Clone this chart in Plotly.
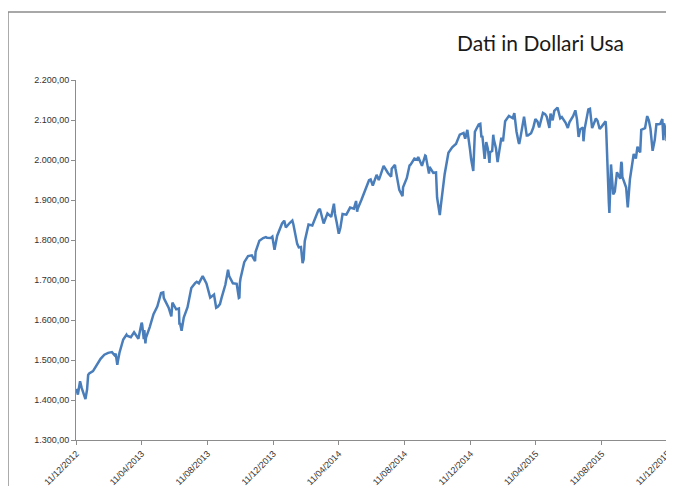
import plotly.graph_objects as go

# Weekly closes (plus notable daily highs/lows)
dates = [
    "2012-12-11","2012-12-14","2012-12-18","2012-12-21","2012-12-28","2012-12-31",
    "2013-01-02","2013-01-04","2013-01-11","2013-01-18","2013-01-25","2013-02-01","2013-02-08",
    "2013-02-15","2013-02-22","2013-02-25","2013-03-01","2013-03-08","2013-03-15","2013-03-22",
    "2013-03-28","2013-04-05","2013-04-11","2013-04-12","2013-04-18","2013-04-19","2013-04-26",
    "2013-05-03","2013-05-10","2013-05-17","2013-05-21","2013-05-24","2013-05-31","2013-06-07",
    "2013-06-14","2013-06-21","2013-06-24","2013-06-28","2013-07-05","2013-07-12","2013-07-19",
    "2013-07-26","2013-08-02","2013-08-09","2013-08-16","2013-08-23","2013-08-27","2013-08-30",
    "2013-09-06","2013-09-13","2013-09-18","2013-09-20","2013-09-27","2013-10-04","2013-10-08",
    "2013-10-11","2013-10-18","2013-10-25","2013-11-01","2013-11-08","2013-11-15","2013-11-22",
    "2013-11-29","2013-12-06","2013-12-13","2013-12-20","2013-12-27","2013-12-31",
    "2014-01-03","2014-01-10","2014-01-17","2014-01-24","2014-01-31","2014-02-03","2014-02-07",
    "2014-02-14","2014-02-21","2014-02-28","2014-03-07","2014-03-14","2014-03-21","2014-03-28",
    "2014-04-04","2014-04-11","2014-04-18","2014-04-25","2014-05-02","2014-05-09","2014-05-16",
    "2014-05-23","2014-05-30","2014-06-06","2014-06-13","2014-06-20","2014-06-27","2014-07-03",
    "2014-07-11","2014-07-18","2014-07-24","2014-07-25","2014-08-01","2014-08-07","2014-08-08",
    "2014-08-15","2014-08-22","2014-08-29","2014-09-05","2014-09-12","2014-09-18","2014-09-19",
    "2014-09-26","2014-10-03","2014-10-10","2014-10-15","2014-10-17","2014-10-24","2014-10-31",
    "2014-11-07","2014-11-14","2014-11-21","2014-11-28","2014-12-05","2014-12-12","2014-12-16",
    "2014-12-19","2014-12-26","2014-12-29","2014-12-31",
    "2015-01-02","2015-01-06","2015-01-09","2015-01-15","2015-01-16","2015-01-23","2015-01-30",
    "2015-02-06","2015-02-13","2015-02-20","2015-02-27","2015-03-06","2015-03-11","2015-03-13",
    "2015-03-20","2015-03-27","2015-04-02","2015-04-10","2015-04-17","2015-04-24","2015-05-01",
    "2015-05-08","2015-05-15","2015-05-21","2015-05-22","2015-05-29","2015-06-05","2015-06-12",
    "2015-06-19","2015-06-26","2015-06-29","2015-07-02","2015-07-08","2015-07-10","2015-07-17",
    "2015-07-20","2015-07-24","2015-07-31","2015-08-07","2015-08-14","2015-08-18","2015-08-21",
    "2015-08-24","2015-08-25","2015-08-28","2015-09-04","2015-09-11","2015-09-16","2015-09-18",
    "2015-09-25","2015-09-28","2015-10-02","2015-10-09","2015-10-16","2015-10-23","2015-10-30",
    "2015-11-03","2015-11-06","2015-11-13","2015-11-20","2015-11-27","2015-12-01","2015-12-04",
    "2015-12-08","2015-12-10","2015-12-11",
]

values = [
    1427.8,1413.6,1446.8,1430.2,1402.4,1426.2,
    1462.4,1466.5,1472.1,1486.0,1503.0,1513.2,1517.9,
    1519.8,1515.6,1487.9,1518.2,1551.2,1560.7,1556.9,
    1569.2,1553.3,1593.4,1588.9,1541.6,1555.3,1582.2,
    1614.4,1633.7,1667.5,1669.2,1649.6,1630.7,1643.4,
    1626.7,1592.4,1573.1,1606.3,1631.9,1680.2,1692.1,
    1691.7,1709.7,1691.4,1655.8,1663.5,1630.5,1633.0,
    1655.2,1688.0,1725.5,1709.9,1691.8,1690.5,1655.5,
    1703.2,1744.5,1759.8,1761.6,1770.6,1798.2,1804.8,
    1805.8,1805.1,1775.3,1818.3,1841.4,1848.4,
    1831.4,1842.4,1838.7,1790.3,1782.6,1741.9,1797.0,
    1838.6,1836.3,1859.5,1878.0,1841.1,1866.5,1857.6,
    1865.1,1815.7,1864.9,1863.4,1881.1,1878.5,1877.9,
    1900.5,1923.6,1949.4,1936.2,1962.9,1961.0,1985.4,
    1967.6,1978.2,1988.0,1978.3,1925.2,1909.6,1931.6,
    1955.1,1988.4,2003.4,2007.7,1985.5,2011.4,2010.4,
    1982.9,1967.9,1906.1,1862.5,1886.8,1964.6,2018.1,
    2031.9,2039.8,2063.5,2067.6,2075.4,2002.3,1972.7,
    2070.7,2088.8,2090.6,2058.9,
    2058.2,2002.6,2044.8,1992.7,2019.4,2051.8,1995.0,
    2055.5,2097.0,2110.3,2104.5,2071.3,2040.2,2053.4,
    2108.1,2061.0,2067.0,2102.1,2081.2,2117.7,2108.3,
    2116.1,2122.7,2130.8,2126.1,2107.4,2092.8,2094.1,
    2110.0,2101.5,2057.6,2076.8,2046.7,2076.6,2126.6,
    2128.3,2079.7,2103.8,2077.6,2091.5,2096.9,1970.9,
    1893.2,1867.6,1988.9,1921.2,1961.1,1995.3,1958.0,
    1931.3,1881.8,1951.4,2014.9,2033.1,2075.2,2079.4,
    2109.8,2099.2,2023.0,2089.2,2090.1,2102.6,2091.7,
    2063.6,2052.2,2012.4,
]

# Additional mid-week readings
extra_dates = [
    "2013-02-20","2013-02-26","2013-03-14","2013-04-15","2013-04-16","2013-05-22","2013-06-05",
    "2013-06-19","2013-06-20","2013-07-22","2013-08-15","2013-09-03","2013-10-09","2013-10-10",
    "2013-11-07","2013-11-27","2013-12-09","2013-12-18",
    "2014-01-15","2014-01-27","2014-02-05","2014-03-04","2014-03-13","2014-04-02","2014-04-07",
    "2014-04-14","2014-05-13","2014-05-15","2014-06-09","2014-06-24","2014-07-17","2014-07-31",
    "2014-08-20","2014-09-03","2014-09-25","2014-10-08","2014-10-13","2014-11-13","2014-12-01",
    "2014-12-10",
    "2015-01-12","2015-01-20","2015-01-22","2015-01-27","2015-02-02","2015-02-09","2015-03-02",
    "2015-03-10","2015-03-25","2015-04-06","2015-04-14","2015-04-28","2015-05-06","2015-05-12",
    "2015-05-26","2015-06-09","2015-06-23","2015-07-07","2015-07-28","2015-08-03","2015-08-11",
    "2015-08-12","2015-08-19","2015-08-20","2015-08-26","2015-08-27","2015-09-01","2015-09-08",
    "2015-09-14","2015-09-17","2015-09-22","2015-10-01","2015-10-13","2015-10-21","2015-11-09",
    "2015-11-17","2015-11-24","2015-12-03","2015-12-07","2015-12-09",
]
extra_values = [
    1512.0,1496.9,1563.2,1552.4,1574.6,1655.4,1608.9,
    1628.9,1588.2,1695.5,1661.3,1639.8,1656.4,1692.6,
    1747.2,1807.2,1808.4,1810.7,
    1848.4,1781.6,1751.6,1873.9,1846.3,1890.9,1845.0,
    1830.6,1897.5,1870.9,1951.3,1950.0,1958.1,1930.7,
    1986.5,2000.7,1966.0,1968.9,1874.7,2039.3,2053.4,
    2026.1,
    2028.3,2022.6,2063.2,2029.6,2020.9,2046.7,2117.4,
    2044.2,2061.1,2080.6,2095.8,2114.8,2080.2,2099.1,
    2104.2,2080.2,2124.2,2081.3,2093.3,2098.0,2084.1,
    2086.1,2079.6,2035.7,1940.5,1987.7,1913.9,1969.4,
    1953.0,1990.2,1942.7,1923.8,2003.7,2018.9,2078.6,
    2050.4,2089.1,2049.6,2077.1,2047.6,
]

x_tick_dates = ["2012-12-11","2013-04-11","2013-08-11","2013-12-11","2014-04-11",
                "2014-08-11","2014-12-11","2015-04-11","2015-08-11","2015-12-11"]
x_tick_labels = ["11/12/2012","11/04/2013","11/08/2013","11/12/2013","11/04/2014",
                 "11/08/2014","11/12/2014","11/04/2015","11/08/2015","11/12/2015"]
y_ticks = [1300,1400,1500,1600,1700,1800,1900,2000,2100,2200]

title_text = "Dati in Dollari Usa"

series = sorted(zip(dates + extra_dates, values + extra_values))
xs = [d for d, _ in series]
ys = [v for _, v in series]

fig = go.Figure()
fig.add_trace(go.Scatter(x=xs, y=ys, mode="lines",
                         line=dict(color="#4a7ebb", width=2.5), hoverinfo="x+y"))

axis_color = "#8c8c8c"
# page body adds an 8px offset, so the figure is sized to fit the window
fig.update_layout(
    width=666, height=478,
    margin=dict(l=68, r=6, t=72, b=46),
    paper_bgcolor="white", plot_bgcolor="white",
    separators=",.",
    showlegend=False,
    font=dict(family="Liberation Sans, Arial, sans-serif", size=9, color="#333333"),
    xaxis=dict(type="date", range=["2012-12-10 12:00","2015-12-11 12:00"], automargin=False,
               tickvals=x_tick_dates, ticktext=x_tick_labels, tickangle=-45,
               showgrid=False, zeroline=False, showline=True, linecolor=axis_color,
               linewidth=1, ticks="outside", ticklen=4, tickcolor=axis_color,
               tickfont=dict(size=9)),
    yaxis=dict(range=[1300,2200], tickvals=y_ticks, tickformat=",.2f", automargin=False,
               showgrid=False, zeroline=False, showline=True, linecolor=axis_color,
               linewidth=1, ticks="outside", ticklen=4, tickcolor=axis_color,
               tickfont=dict(size=9)),
)

fig.add_shape(type="rect", xref="paper", yref="paper",
              x0=-0.1149, x1=1.05, y0=-0.2, y1=1.189,
              line=dict(color="#8c8c8c", width=1.5), fillcolor="rgba(0,0,0,0)", layer="below")

fig.add_annotation(text=title_text, xref="paper", yref="paper",
                   x=0.784, y=1.103, xanchor="center", yanchor="middle", showarrow=False,
                   font=dict(family="Lato, sans-serif", size=21, color="#1a1a1a"))

fig.write_html("out.html")
